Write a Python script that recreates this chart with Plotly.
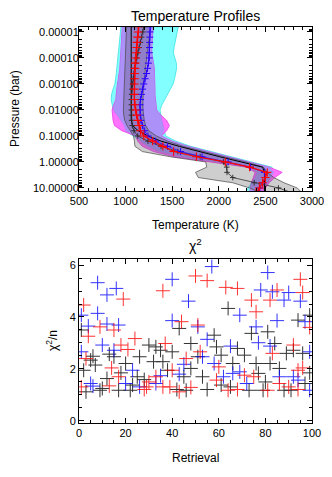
import numpy as np
import plotly.graph_objects as go

# ---------------- data: temperature profiles ----------------
LOGP = [-5.2, -5.0, -4.8, -4.6, -4.4, -4.2, -4.0, -3.8, -3.6, -3.4, -3.2, -3.0,
        -2.8, -2.6, -2.4, -2.2, -2.0, -1.8, -1.6, -1.4, -1.2, -1.0, -0.8, -0.6,
        -0.4, -0.2, 0.0, 0.2, 0.4, 0.6, 0.8, 1.0, 1.2]

T_TRUE = [1060] * 19 + [1075, 1135, 1240, 1380, 1575, 1780, 2010, 2240, 2470,
                        2490, 2490, 2490, 2490, 2490]
T_BLACK = [1195, 1185, 1172, 1158, 1145, 1132, 1120, 1108, 1098, 1090, 1082, 1075,
           1068, 1065, 1063, 1062, 1062, 1063, 1065, 1072, 1090, 1130, 1240, 1380,
           1560, 1800, 2050, 2085, 2088, 2150, 2380, 2640, 2800]
T_RED = [1140, 1135, 1128, 1122, 1118, 1112, 1108, 1103, 1100, 1098, 1097, 1095,
         1094, 1094, 1095, 1100, 1108, 1118, 1130, 1145, 1160, 1195, 1290, 1400,
         1515, 1760, 2070, 2330, 2520, 2500, 2470, 2435, 2400]
T_BLUE = [1265, 1262, 1260, 1258, 1256, 1255, 1254, 1245, 1235, 1225, 1210, 1195,
          1182, 1170, 1160, 1155, 1155, 1158, 1165, 1180, 1205, 1240, 1320, 1450,
          1590, 1820, 2100, 2340, 2490, 2495, 2470, 2440, 2410]

CYAN_LO = [950, 945, 940, 935, 930, 926, 922, 918, 910, 900, 892, 885,
           865, 850, 845, 855, 868, 910, 950, 985, 1000, 1080, 1160, 1240,
           1360, 1600, 1990, 2330, 2410, 2390, 2350, 2310, 2280]
CYAN_HI = [1565, 1550, 1540, 1530, 1520, 1512, 1525, 1545, 1548, 1540, 1525, 1510,
           1480, 1450, 1420, 1390, 1369, 1380, 1395, 1405, 1415, 1430, 1540, 1700,
           1900, 2130, 2350, 2570, 2590, 2560, 2520, 2450, 2380]
MAG_LO = [965, 962, 958, 955, 952, 950, 948, 945, 938, 930, 920, 910,
          905, 900, 895, 872, 855, 860, 865, 880, 960, 1110, 1130, 1180,
          1300, 1520, 1920, 2300, 2390, 2370, 2350, 2340, 2330]
MAG_HI = [1295, 1292, 1288, 1284, 1281, 1280, 1290, 1300, 1308, 1315, 1315, 1315,
          1315, 1315, 1320, 1325, 1333, 1380, 1440, 1470, 1440, 1385, 1500, 1670,
          1870, 2100, 2320, 2540, 2680, 2600, 2540, 2500, 2470]
GREY_LO = [1010, 1008, 1005, 1003, 1000, 998, 995, 992, 990, 988, 985, 983,
           980, 978, 975, 975, 976, 980, 990, 1015, 1050, 1085, 1095, 1100,
           1180, 1480, 1860, 1870, 1750, 1780, 2150, 2330, 2450]
GREY_HI = [1270, 1262, 1255, 1248, 1240, 1232, 1225, 1218, 1212, 1206, 1200, 1195,
           1190, 1187, 1185, 1185, 1187, 1192, 1200, 1215, 1250, 1330, 1450, 1620,
           1830, 2060, 2290, 2480, 2520, 2590, 2700, 2840, 2900]

# ---------------- data: chi^2 per retrieval ----------------
BLUE_X = [1, 1, 4, 8, 12, 16, 8, 12, 10, 17, 15, 5, 6, 20, 23, 26, 33, 35, 40, 40,
          43, 47, 45, 51, 55, 53, 57, 58, 62, 65, 66, 69, 69, 72, 76, 77, 78, 81, 82, 83,
          85, 86, 88, 90, 92, 94, 95, 97, 99, 99]
BLUE_Y = [2.66, 4.07, 3.65, 5.32, 4.85, 5.10, 4.14, 3.73, 2.92, 3.69, 2.72, 1.44, 1.34,
          1.44, 1.95, 1.31, 1.44, 1.74, 5.45, 3.86, 1.80, 4.61, 2.18, 3.62, 3.14, 2.47,
          5.94, 2.21, 1.70, 2.88, 1.83, 4.07, 1.89, 1.44, 3.62, 3.01, 5.04, 5.71, 2.88,
          4.97, 3.86, 1.70, 4.65, 4.94, 1.70, 1.57, 4.61, 3.82, 2.66, 1.18]
RED_X = [2, 3, 4, 9, 15, 19, 18, 21, 24, 14, 17, 13, 1, 28, 29, 30, 33, 36, 37, 36,
         39, 40, 44, 46, 43, 48, 50, 51, 52, 55, 60, 59, 63, 64, 68, 68, 71, 74, 76, 75,
         81, 82, 83, 85, 86, 92, 94, 95, 96, 96, 99, 94, 90]
RED_Y = [4.46, 2.40, 3.26, 3.62, 3.50, 4.69, 2.92, 2.75, 3.17, 2.04, 1.70, 1.35, 1.31,
         1.21, 1.31, 1.50, 1.70, 5.01, 2.98, 1.31, 1.31, 1.95, 3.82, 2.40, 1.12, 1.29,
         5.58, 3.69, 2.66, 5.40, 2.08, 1.57, 5.14, 1.18, 5.10, 1.21, 1.76, 4.65, 4.20,
         1.70, 1.18, 4.65, 2.60, 5.04, 1.44, 2.92, 1.21, 5.45, 4.94, 2.04, 3.60, 1.95,
         1.31]
BLACK_X = [1, 2, 3, 5, 6, 7, 9, 10, 12, 13, 15, 17, 18, 20, 22, 23, 25, 26, 28, 30,
           32, 33, 35, 36, 38, 40, 42, 43, 45, 46, 48, 48, 51, 53, 55, 58, 59, 61, 61, 64,
           65, 66, 68, 71, 73, 74, 76, 77, 79, 80, 81, 82, 84, 86, 88, 89, 91, 92, 94, 96,
           97, 99, 99]
BLACK_Y = [3.50, 1.95, 1.12, 2.34, 2.49, 2.15, 1.18, 1.25, 1.63, 2.57, 2.47, 1.18, 1.85,
           2.21, 1.18, 1.38, 1.70, 2.47, 1.59, 2.92, 2.28, 2.85, 2.72, 2.28, 1.95, 2.66,
           1.21, 3.56, 1.70, 1.18, 2.98, 2.02, 2.47, 1.70, 1.21, 3.30, 2.85, 1.38, 2.53,
           4.33, 1.31, 2.21, 2.79, 2.53, 1.18, 3.37, 2.21, 1.83, 1.18, 1.50, 3.43, 2.21,
           2.98, 2.02, 1.18, 2.60, 1.18, 2.72, 3.88, 2.60, 1.44, 1.85, 4.07]

# ---------------- figure ----------------
P = [10 ** v for v in LOGP]
FONT = "Liberation Sans, Arial, Helvetica, sans-serif"

fig = go.Figure()


def band(lo, hi, fill, edge, width=0.8):
    xs = list(lo) + list(hi)[::-1] + [lo[0]]
    ys = P + P[::-1] + [P[0]]
    fig.add_trace(go.Scatter(x=xs, y=ys, mode="lines", fill="toself",
                             fillcolor=fill, line=dict(color=edge, width=width),
                             hoverinfo="skip", showlegend=False,
                             xaxis="x", yaxis="y"))


band(CYAN_LO, CYAN_HI, "rgb(130,255,255)", "rgb(60,225,225)")
band(MAG_LO, MAG_HI, "rgb(255,115,255)", "rgb(235,60,235)")
ov_lo = np.maximum(CYAN_LO, MAG_LO)
ov_hi = np.maximum(np.minimum(CYAN_HI, MAG_HI), ov_lo)
band(ov_lo, ov_hi, "rgb(172,146,248)", "rgba(150,120,230,0.6)", 0.5)
band(GREY_LO, GREY_HI, "rgba(80,80,80,0.28)", "rgb(70,70,70)", 0.7)

fig.add_trace(go.Scatter(x=T_TRUE, y=P, mode="lines",
                         line=dict(color="black", width=1),
                         showlegend=False, xaxis="x", yaxis="y"))
fig.add_trace(go.Scatter(x=T_BLACK, y=P, mode="lines+markers",
                         line=dict(color="rgb(50,50,50)", width=0.8),
                         marker=dict(symbol="cross-thin", size=4,
                                     line=dict(color="rgb(40,40,40)", width=0.9)),
                         showlegend=False, xaxis="x", yaxis="y"))
fig.add_trace(go.Scatter(x=T_BLUE, y=P, mode="lines+markers",
                         line=dict(color="rgb(60,20,255)", width=0.9),
                         marker=dict(symbol="cross-thin", size=5,
                                     line=dict(color="rgb(40,0,255)", width=1)),
                         showlegend=False, xaxis="x", yaxis="y"))
fig.add_trace(go.Scatter(x=T_RED, y=P, mode="lines+markers",
                         line=dict(color="red", width=1.2),
                         marker=dict(symbol="cross-thin", size=6,
                                     line=dict(color="red", width=1.1)),
                         showlegend=False, xaxis="x", yaxis="y"))

# chi^2 scatter
for xs, ys, col in [(BLACK_X, BLACK_Y, "black"),
                    (BLUE_X, BLUE_Y, "blue"),
                    (RED_X, RED_Y, "red")]:
    fig.add_trace(go.Scatter(x=xs, y=ys, mode="markers", opacity=0.8,
                             marker=dict(symbol="cross-thin", size=10,
                                         line=dict(color=col, width=1)),
                             showlegend=False, xaxis="x2", yaxis="y2"))

axis_common = dict(showline=True, linecolor="black", linewidth=1, mirror="ticks",
                   ticks="inside", ticklen=5, tickcolor="black", showgrid=False,
                   zeroline=False, automargin=False,
                   tickfont=dict(family=FONT, size=11, color="black"))

# the page body has an 8px margin, so the figure is 8px smaller than the window
fig.update_layout(
    width=324, height=469,
    margin=dict(l=71, r=20, t=19, b=54),
    paper_bgcolor="white", plot_bgcolor="white",
    font=dict(family=FONT, color="black"),
    xaxis=dict(domain=[0, 1], anchor="y", range=[500, 3000],
               tickvals=[500, 1000, 1500, 2000, 2500, 3000],
               minor=dict(ticks="inside", ticklen=3, dtick=100, tickcolor="black"),
               **axis_common),
    yaxis=dict(domain=[0.586, 1], anchor="x", type="log", range=[1.115, -5.19],
               tickvals=[1e-5, 1e-4, 1e-3, 1e-2, 1e-1, 1, 10],
               ticktext=["0.00001", "0.00010", "0.00100", "0.01000", "0.10000",
                         "1.00000", "10.00000"],
               ticklabelstandoff=-3,
               minor=dict(ticks="inside", ticklen=3, dtick="D1", tickcolor="black"),
               **axis_common),
    xaxis2=dict(domain=[0, 1], anchor="y2", range=[0, 100],
                tickvals=[0, 20, 40, 60, 80, 100],
                minor=dict(ticks="inside", ticklen=3, dtick=5, tickcolor="black"),
                **axis_common),
    yaxis2=dict(domain=[0, 0.414], anchor="x2", range=[-0.08, 6.23],
                tickvals=[0, 2, 4, 6],
                minor=dict(ticks="inside", ticklen=3, dtick=0.5, tickcolor="black"),
                **axis_common),
)

ann = [
    dict(text="Temperature Profiles", x=0.5, y=(423 - 16) / 396, size=14, angle=0),
    dict(text="Temperature (K)", x=0.5, y=(423 - 225) / 396, size=12, angle=0),
    dict(text="Pressure (bar)", x=(15 - 79) / 233, y=(423 - 109) / 396, size=12, angle=-90),
    dict(text="χ<sup>2</sup>", x=0.5, y=(423 - 245) / 396, size=14, angle=0),
    dict(text="Retrieval", x=0.5, y=(423 - 458) / 396, size=12, angle=0),
    dict(text="χ<sup>2</sup>/n", x=(52 - 79) / 233, y=(423 - 341) / 396, size=12, angle=-90),
]
for a in ann:
    fig.add_annotation(text=a["text"], x=a["x"], y=a["y"], xref="paper", yref="paper",
                       xanchor="center", yanchor="middle", showarrow=False,
                       textangle=a["angle"],
                       font=dict(family=FONT, size=a["size"], color="black"))

fig.write_html("out.html")
